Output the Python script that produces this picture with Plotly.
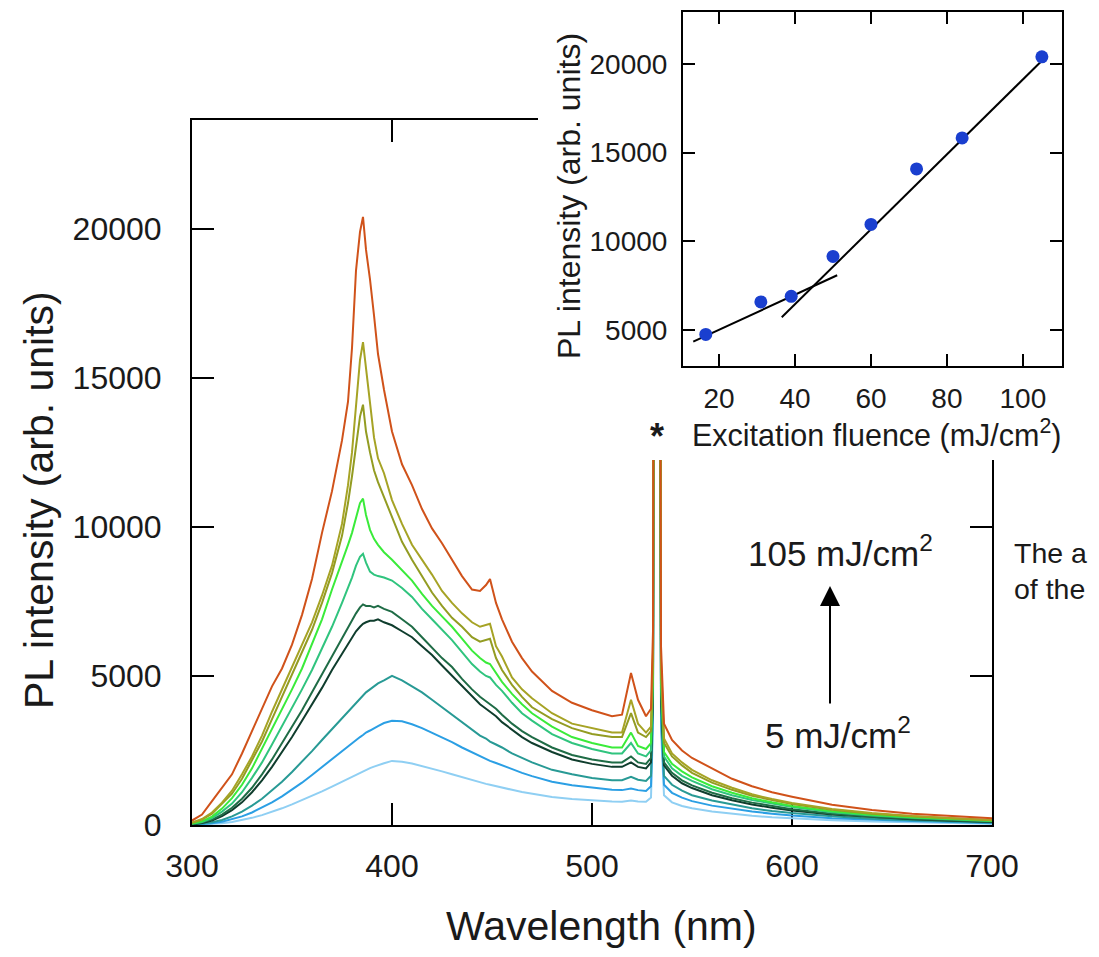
import plotly.graph_objects as go

W, H = 1099, 957
OFF = 8  # page body margin of the html page

# ---------------- data ----------------
wavelength = [300, 305, 310, 315, 320, 325, 330, 335, 340, 345, 350, 355, 360, 365, 370, 375,
              378, 380, 382, 384, 385.5, 387, 389, 391, 393, 396,
              400, 405, 410, 415, 420, 425, 430, 435, 440,
              444, 447, 449, 452, 455, 460, 465, 470, 480, 490, 500, 510,
              515, 519.5, 523, 527, 529.5, 530.5, 531.2, 532.5, 533.8, 534.5, 536,
              540, 545, 550, 560, 570, 580, 590, 600, 620, 640, 660, 680, 700]

pl_105 = [150, 350, 800, 1250, 1700, 2400, 3150, 3900, 4650, 5250, 6050, 7050, 8250, 9800, 11200, 12900,
          14200, 16000, 18600, 19900, 20400, 19300, 18300, 17100, 15800, 14600,
          13200, 12100, 11400, 10600, 9950, 9450, 8900, 8350, 7900,
          7850, 8050, 8250, 7450, 6900, 6150, 5600, 5150, 4500, 4100, 3850, 3650,
          3700, 5100, 4200, 3650, 3900, 6500, 30000, 60000, 30000, 6000, 3400,
          2850, 2500, 2250, 1900, 1550, 1300, 1100, 950, 680, 500, 380, 300, 230]
pl_84 = [80, 200, 420, 750, 1150, 1700, 2300, 3000, 3800, 4550, 5250, 6000, 6800, 7700, 8700, 10100,
         11400, 12500, 14000, 15600, 16200, 15300, 14000, 13000, 12300, 11800,
         10900, 10100, 9400, 8900, 8400, 7850, 7450, 7100, 6800,
         6650, 6700, 6750, 6000, 5650, 4950, 4550, 4250, 3750, 3400, 3250, 3100,
         3100, 4200, 3400, 3100, 3300, 5800, 30000, 60000, 30000, 5500, 2900,
         2400, 2100, 1850, 1500, 1250, 1030, 870, 740, 540, 400, 300, 230, 170]
pl_72 = [70, 180, 380, 700, 1050, 1550, 2150, 2800, 3550, 4300, 5000, 5750, 6550, 7450, 8450, 9700,
         10800, 11700, 12800, 13700, 14100, 13200, 12500, 11900, 11500, 11000,
         10300, 9500, 8900, 8350, 7800, 7350, 6950, 6650, 6300,
         6150, 6200, 6250, 5600, 5200, 4700, 4300, 3950, 3550, 3250, 3050, 2950,
         2950, 3750, 3100, 2950, 3150, 5600, 30000, 60000, 30000, 5300, 2750,
         2300, 2000, 1750, 1420, 1180, 980, 830, 700, 510, 380, 290, 220, 160]
pl_60 = [50, 120, 280, 550, 900, 1350, 1900, 2550, 3200, 3900, 4550, 5250, 6050, 6900, 7900, 8800,
         9400, 9800, 10300, 10800, 10950, 10400, 9900, 9600, 9400, 9150,
         8900, 8550, 8200, 7750, 7350, 7000, 6650, 6250, 5850,
         5600, 5450, 5400, 5100, 4800, 4400, 4050, 3750, 3300, 2950, 2750, 2600,
         2600, 3100, 2650, 2550, 2750, 5200, 30000, 60000, 30000, 5000, 2450,
         2050, 1800, 1600, 1300, 1080, 900, 760, 640, 460, 340, 260, 200, 140]
pl_50 = [40, 100, 230, 450, 720, 1100, 1580, 2100, 2700, 3300, 3900, 4550, 5200, 5900, 6650, 7450,
         7950, 8300, 8700, 9000, 9100, 8800, 8500, 8400, 8350, 8300,
         8200, 7950, 7650, 7250, 6900, 6550, 6200, 5800, 5400,
         5150, 5000, 4950, 4700, 4500, 4100, 3750, 3500, 3050, 2750, 2550, 2400,
         2400, 2750, 2400, 2300, 2500, 5000, 30000, 60000, 30000, 4800, 2300,
         1900, 1650, 1480, 1200, 1000, 840, 710, 600, 430, 320, 240, 180, 130]
pl_39 = [30, 80, 180, 350, 580, 880, 1250, 1700, 2200, 2750, 3300, 3850, 4450, 5050, 5700, 6300,
         6650, 6900, 7100, 7300, 7400, 7350, 7350, 7300, 7350, 7250,
         7150, 6900, 6650, 6300, 5950, 5600, 5300, 4900, 4550,
         4300, 4150, 4050, 3900, 3700, 3400, 3150, 2950, 2600, 2350, 2200, 2100,
         2100, 2300, 2100, 2050, 2250, 4700, 30000, 60000, 30000, 4500, 2100,
         1750, 1500, 1330, 1080, 900, 750, 630, 530, 380, 280, 210, 160, 110]
pl_31 = [25, 70, 150, 300, 500, 760, 1100, 1500, 1950, 2450, 2950, 3500, 4050, 4600, 5200, 5750,
         6100, 6300, 6500, 6650, 6750, 6800, 6850, 6850, 6900, 6800,
         6700, 6500, 6300, 6000, 5700, 5350, 5000, 4650, 4300,
         4050, 3900, 3800, 3650, 3450, 3200, 2950, 2750, 2450, 2200, 2050, 1950,
         1950, 2100, 1950, 1900, 2100, 4600, 30000, 60000, 30000, 4400, 2000,
         1650, 1400, 1240, 1000, 830, 690, 580, 490, 350, 260, 190, 140, 100]
pl_17 = [15, 40, 90, 170, 290, 450, 650, 880, 1150, 1450, 1780, 2120, 2480, 2850, 3220, 3580,
         3800, 3950, 4100, 4250, 4350, 4450, 4550, 4650, 4750, 4850,
         5000, 4850, 4650, 4450, 4200, 3950, 3700, 3450, 3200,
         3000, 2900, 2800, 2700, 2600, 2400, 2250, 2100, 1850, 1700, 1580, 1500,
         1500, 1620, 1520, 1480, 1650, 4200, 30000, 60000, 30000, 4000, 1650,
         1350, 1150, 1000, 820, 680, 560, 470, 400, 290, 210, 160, 120, 80]
pl_10 = [10, 25, 55, 110, 190, 290, 420, 580, 760, 960, 1180, 1420, 1680, 1950, 2220, 2480,
         2640, 2740, 2850, 2950, 3020, 3100, 3170, 3250, 3320, 3420,
         3500, 3480, 3380, 3250, 3100, 2950, 2780, 2600, 2430,
         2300, 2200, 2150, 2080, 2000, 1870, 1750, 1640, 1450, 1330, 1250, 1180,
         1170, 1220, 1170, 1140, 1300, 3800, 30000, 60000, 30000, 3600, 1350,
         1080, 920, 800, 650, 540, 450, 380, 320, 230, 170, 130, 100, 60]
pl_5 = [5, 15, 30, 60, 100, 160, 240, 330, 440, 560, 690, 830, 980, 1130, 1290, 1450,
        1550, 1620, 1690, 1760, 1810, 1860, 1910, 1960, 2010, 2070,
        2150, 2120, 2060, 1980, 1900, 1800, 1700, 1600, 1500,
        1430, 1380, 1350, 1300, 1260, 1180, 1110, 1050, 940, 870, 820, 790,
        780, 820, 790, 780, 920, 3400, 30000, 60000, 30000, 3200, 1000,
        760, 640, 560, 450, 370, 310, 260, 220, 160, 120, 90, 70, 40]

# drawn from lowest to highest (highest on top)
spectra = [pl_5, pl_10, pl_17, pl_31, pl_39, pl_50, pl_60, pl_72, pl_84, pl_105]
spectra_colors = ["#8fcff3", "#2b9fe4", "#289a95", "#0f3d2d", "#1f6c46",
                  "#30c47e", "#3aeb3a", "#939c22", "#a6a325", "#d0521a"]

# inset
fluence = [16.5, 31, 39, 50, 60, 72, 84, 105]
peak_intensity = [4750, 6580, 6900, 9150, 10950, 14080, 15830, 20400]
fit_low_x = [13.2, 51.1]
fit_low_y = [4340, 8085]
fit_high_x = [36.5, 105.2]
fit_high_y = [5716, 20225]

main_xticks = [300, 400, 500, 600, 700]
main_yticks = [0, 5000, 10000, 15000, 20000]
inset_xticks = [20, 40, 60, 80, 100]
inset_yticks = [5000, 10000, 15000, 20000]

FONT = "Liberation Sans, Arial, sans-serif"
TXT = "#1a1a1a"

FW, FH = W - 2 * OFF, H - 2 * OFF

def fx(px):
    return (px - OFF) / FW

def fy(py):
    return 1 - (py - OFF) / FH

fig = go.Figure()

for vals, col in zip(spectra, spectra_colors):
    fig.add_trace(go.Scatter(x=wavelength, y=vals, mode="lines",
                             line=dict(color=col, width=2),
                             xaxis="x", yaxis="y", showlegend=False, hoverinfo="skip"))

# white cover panel behind the inset
fig.add_trace(go.Scatter(x=[], y=[], xaxis="x2", yaxis="y2", showlegend=False))

# inset
fig.add_trace(go.Scatter(x=fit_low_x, y=fit_low_y, mode="lines", line=dict(color="black", width=2),
                         xaxis="x3", yaxis="y3", showlegend=False))
fig.add_trace(go.Scatter(x=fit_high_x, y=fit_high_y, mode="lines", line=dict(color="black", width=2),
                         xaxis="x3", yaxis="y3", showlegend=False))
fig.add_trace(go.Scatter(x=fluence, y=peak_intensity, mode="markers",
                         marker=dict(color="#1a3fcf", size=13, line=dict(width=0)),
                         xaxis="x3", yaxis="y3", showlegend=False))

axis_common = dict(ticks="inside", tickcolor="black", tickwidth=2, showline=True,
                   linecolor="black", linewidth=2, mirror="ticks", showgrid=False,
                   zeroline=False, automargin=False, tickformat="d",
                   tickfont=dict(family=FONT, size=32, color=TXT))
inset_font = dict(family=FONT, size=28, color=TXT)

fig.update_layout(
    width=FW, height=FH,
    margin=dict(l=0, r=0, t=0, b=0, pad=0, autoexpand=False),
    paper_bgcolor="white", plot_bgcolor="white",
    showlegend=False,
    xaxis=dict(domain=[fx(192), fx(992)], range=[300, 700], tickmode="array", tickvals=main_xticks,
               ticktext=[str(v) for v in main_xticks],
               ticklen=22, anchor="y", layer="below traces", ticklabelstandoff=12, **axis_common),
    yaxis=dict(domain=[fy(825), fy(120)], range=[0, 23650], tickmode="array", tickvals=main_yticks,
               ticktext=[str(v) for v in main_yticks],
               ticklen=22, anchor="x", layer="below traces", ticklabelstandoff=22, **axis_common),
    xaxis2=dict(domain=[fx(538), 1], range=[0, 1], anchor="y2", visible=False, automargin=False),
    yaxis2=dict(domain=[fy(460), 1], range=[0, 1], anchor="x2", visible=False, automargin=False),
    xaxis3=dict(domain=[fx(683), fx(1062)], range=[10.5, 110.3], tickmode="array",
                tickvals=inset_xticks, ticktext=[str(v) for v in inset_xticks],
                ticklen=12, anchor="y3", ticklabelstandoff=6,
                **{**axis_common, "tickfont": inset_font}),
    yaxis3=dict(domain=[fy(366), fy(12)], range=[2970, 22930], tickmode="array",
                tickvals=inset_yticks, ticktext=[str(v) for v in inset_yticks],
                ticklen=12, anchor="x3", ticklabelstandoff=8,
                **{**axis_common, "tickfont": inset_font}),
)

ann = []
def text(px, py, s, size, angle=0, xanchor="center"):
    ann.append(dict(x=fx(px), y=fy(py), xref="paper", yref="paper", text=s, showarrow=False,
                    textangle=angle, xanchor=xanchor, yanchor="middle",
                    font=dict(family=FONT, size=size, color=TXT)))

text(39, 500, "PL intensity (arb. units)", 41, angle=-90)
text(601, 926, "Wavelength (nm)", 41)
text(569, 196, "PL intensity (arb. units)", 32, angle=-90)
text(877, 433, "Excitation fluence (mJ/cm<sup>2</sup>)", 30.5)
text(657, 436, "<b>*</b>", 36)
text(840, 551, "105 mJ/cm<sup>2</sup>", 35)
text(838, 733, "5 mJ/cm<sup>2</sup>", 35)
text(1012, 553, "The a", 28.5, xanchor="left")
text(1012, 589, "of the", 28.5, xanchor="left")

ann.append(dict(x=fx(830), y=fy(586), xref="paper", yref="paper",
                ax=0, ay=119, axref="pixel", ayref="pixel",
                text="", showarrow=True, arrowhead=2, arrowsize=2, arrowwidth=2,
                arrowcolor="black"))

fig.update_layout(annotations=ann)

fig.write_html("out.html")
